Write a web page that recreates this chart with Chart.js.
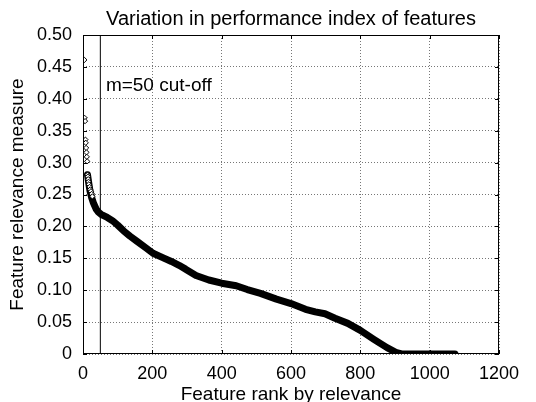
<!DOCTYPE html>
<html>
<head>
<meta charset="utf-8">
<script src="https://cdn.jsdelivr.net/npm/chart.js@4.4.1/dist/chart.umd.min.js"></script>
<style>
  html, body { margin: 0; padding: 0; background: #fff; }
  #wrap { width: 536px; height: 402px; }
</style>
</head>
<body>
<div id="wrap"><canvas id="grafico"></canvas></div>
<script>
// top ranked features, drawn as separate diamonds
const topRanks = [4, 5, 6, 7, 8, 9, 10, 11, 12, 13, 14, 15, 16, 17, 19, 21, 23, 25, 27];
const topValues = [0.461, 0.370, 0.365, 0.336, 0.331, 0.323, 0.316, 0.309, 0.302, 0.281,
  0.278, 0.274, 0.270, 0.266, 0.262, 0.258, 0.255, 0.251, 0.247];

// rest of the ranked features (dense band)
const curveRanks = [13, 16, 20, 25, 30, 38, 45, 52, 70, 85, 100, 117, 135, 155, 180, 202,
  230, 255, 277, 296, 326, 363, 400, 442, 474, 512, 558, 600, 642, 670, 698, 727, 764,
  800, 839, 877, 905, 919, 1000, 1073];
const curveValues = [0.281, 0.270, 0.256, 0.245, 0.237, 0.227, 0.222, 0.219, 0.214, 0.209,
  0.202, 0.193, 0.185, 0.177, 0.167, 0.158, 0.151, 0.145, 0.139, 0.133, 0.123, 0.116,
  0.111, 0.107, 0.101, 0.095, 0.086, 0.079, 0.070, 0.066, 0.063, 0.056, 0.048, 0.037,
  0.023, 0.010, 0.002, 0, 0, 0];

const cutOff = 50;
const cutOffLabel = "m=50 cut-off";
const titulo = "Variation in performance index of features";
const xTicks = [0, 200, 400, 600, 800, 1000, 1200];

const toPoints = (xs, ys) => xs.map((x, i) => ({ x: x, y: ys[i] }));

const fuente = "'Liberation Sans', Arial, Helvetica, sans-serif";

// frame, inward ticks, title and the cut-off text
const marco = {
  id: "marco",
  afterDraw: (chart) => {
    const { ctx, chartArea: a, scales } = chart;
    ctx.save();
    ctx.strokeStyle = "#000";
    ctx.lineWidth = 1;
    ctx.setLineDash([]);
    ctx.strokeRect(a.left + 0.5, a.top + 0.5, a.right - a.left - 1, a.bottom - a.top - 1);
    ctx.beginPath();
    scales.x.ticks.forEach((t) => {
      const px = Math.round(scales.x.getPixelForValue(t.value)) + 0.5;
      ctx.moveTo(px, a.bottom);
      ctx.lineTo(px, a.bottom - 4);
      ctx.moveTo(px, a.top);
      ctx.lineTo(px, a.top + 4);
    });
    scales.y.ticks.forEach((t) => {
      const py = Math.round(scales.y.getPixelForValue(t.value)) + 0.5;
      ctx.moveTo(a.left, py);
      ctx.lineTo(a.left + 4, py);
      ctx.moveTo(a.right, py);
      ctx.lineTo(a.right - 4, py);
    });
    ctx.stroke();
    ctx.fillStyle = "#000";
    ctx.textBaseline = "alphabetic";
    ctx.font = "19px " + fuente;
    ctx.textAlign = "left";
    ctx.fillText(cutOffLabel, scales.x.getPixelForValue(66), scales.y.getPixelForValue(0.412));
    ctx.font = "20px " + fuente;
    ctx.textAlign = "center";
    ctx.fillText(titulo, (a.left + a.right) / 2, 25);
    ctx.restore();
  },
};

const cnvs = document.getElementById("grafico");
const grafico = new Chart(cnvs, {
  type: "scatter",
  data: {
    datasets: [
      {
        label: "Top features",
        data: toPoints(topRanks, topValues),
        pointStyle: "rectRot",
        pointRadius: 2.6,
        pointBackgroundColor: "#fff",
        pointBorderColor: "#000",
        pointBorderWidth: 1,
        order: 0,
      },
      {
        type: "line",
        label: "Features",
        data: toPoints(curveRanks, curveValues),
        borderColor: "#000",
        borderWidth: 7,
        borderJoinStyle: "round",
        borderCapStyle: "round",
        pointRadius: 0,
        tension: 0,
        order: 1,
      },
      {
        type: "line",
        label: "Cut-off",
        data: [{ x: cutOff, y: 0 }, { x: cutOff, y: 0.5 }],
        borderColor: "#000",
        borderWidth: 1,
        pointRadius: 0,
        order: 2,
      },
    ],
  },
  options: {
    responsive: true,
    maintainAspectRatio: false,
    animation: false,
    layout: { padding: { left: 0, right: 37, top: 35, bottom: 0 } },
    scales: {
      x: {
        type: "linear",
        min: 0,
        max: 1200,
        afterBuildTicks: (scale) => {
          scale.ticks = xTicks.map((v) => ({ value: v }));
        },
        afterFit: (scale) => {
          scale.height = 48;
        },
        ticks: {
          color: "#000",
          font: { size: 18, family: fuente },
          padding: 9,
          maxRotation: 0,
          callback: (value) => String(value),
        },
        grid: {
          color: "#777",
          lineWidth: 1,
          drawTicks: false,
        },
        border: { display: false, dash: [1, 2] },
        title: {
          display: true,
          text: "Feature rank by relevance",
          color: "#000",
          font: { size: 19, family: fuente },
          padding: { top: 0, bottom: -4 },
        },
      },
      y: {
        min: 0,
        max: 0.5,
        afterFit: (scale) => {
          scale.width = 83;
        },
        ticks: {
          stepSize: 0.05,
          color: "#000",
          font: { size: 18, family: fuente },
          padding: 11,
          callback: (value) => (value === 0 ? "0" : value.toFixed(2)),
        },
        grid: {
          color: "#777",
          lineWidth: 1,
          drawTicks: false,
        },
        border: { display: false, dash: [1, 2] },
        title: {
          display: true,
          text: "Feature relevance measure",
          color: "#000",
          font: { size: 19, family: fuente },
          padding: { top: 6, bottom: 0 },
        },
      },
    },
    plugins: {
      legend: { display: false },
      tooltip: { enabled: false },
      title: { display: false },
    },
  },
  plugins: [marco],
});
</script>
</body>
</html>
